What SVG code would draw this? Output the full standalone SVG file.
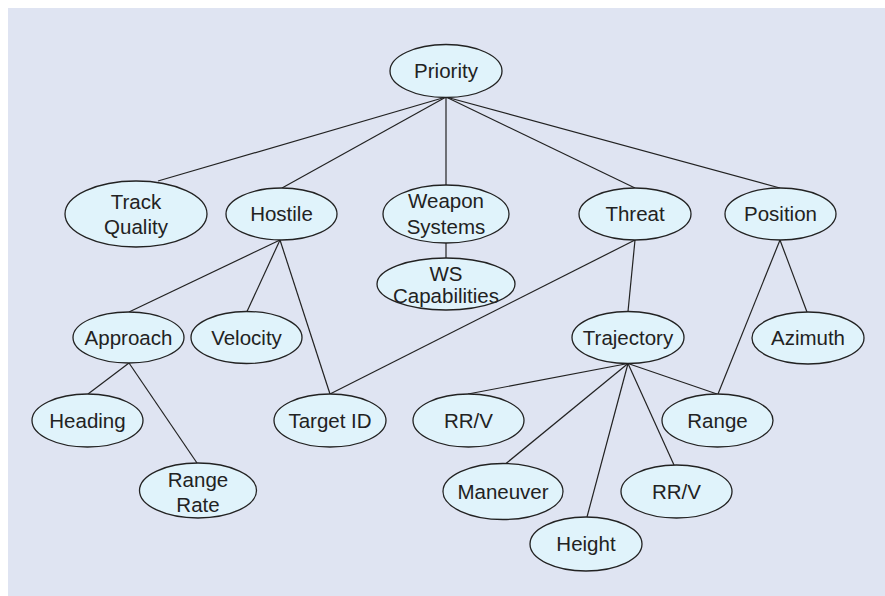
<svg xmlns="http://www.w3.org/2000/svg" width="885" height="596" viewBox="0 0 885 596">
<style>
.bg{fill:#dfe4f2}
.n ellipse{fill:#e0f3fb;stroke:#222;stroke-width:1.3}
.n text{font-family:"Liberation Sans",Arial,sans-serif;font-size:20.5px;fill:#222;text-anchor:middle}
.e line{stroke:#222;stroke-width:1.2}
</style>
<rect class="bg" x="8" y="8" width="877" height="588"/>
<g id="connectors" class="e">
<line x1="446" y1="97" x2="158" y2="181"/>
<line x1="446" y1="97" x2="282" y2="188"/>
<line x1="446" y1="97" x2="446" y2="185"/>
<line x1="446" y1="97" x2="635" y2="188"/>
<line x1="446" y1="97" x2="780" y2="188"/>
<line x1="280" y1="240" x2="129" y2="312"/>
<line x1="280" y1="240" x2="247" y2="311.5"/>
<line x1="280" y1="240" x2="330" y2="394"/>
<line x1="635" y1="240" x2="330" y2="394"/>
<line x1="635" y1="240" x2="628" y2="311.5"/>
<line x1="780" y1="240" x2="718" y2="394"/>
<line x1="780" y1="240" x2="807" y2="312"/>
<line x1="446" y1="243" x2="446" y2="258"/>
<line x1="129" y1="363" x2="88" y2="394"/>
<line x1="129" y1="363" x2="197" y2="463"/>
<line x1="628" y1="363.5" x2="468" y2="394"/>
<line x1="628" y1="363.5" x2="506" y2="463.5"/>
<line x1="628" y1="363.5" x2="587" y2="517"/>
<line x1="628" y1="363.5" x2="674" y2="465"/>
<line x1="628" y1="363.5" x2="717" y2="394"/>
</g>
<g id="priority" class="n"><ellipse cx="446" cy="71" rx="56" ry="26.5"/><text x="446" y="78">Priority</text></g>
<g id="track-quality" class="n"><ellipse cx="136" cy="214" rx="71" ry="33"/><text x="136" y="209">Track</text><text x="136" y="234">Quality</text></g>
<g id="hostile" class="n"><ellipse cx="281.5" cy="214" rx="55.5" ry="26"/><text x="281.5" y="221">Hostile</text></g>
<g id="weapon-systems" class="n"><ellipse cx="446" cy="214" rx="63" ry="29"/><text x="446" y="208">Weapon</text><text x="446" y="234">Systems</text></g>
<g id="ws-capabilities" class="n"><ellipse cx="446" cy="284" rx="69" ry="26"/><text x="446" y="281">WS</text><text x="446" y="303">Capabilities</text></g>
<g id="threat" class="n"><ellipse cx="635" cy="214" rx="56" ry="26"/><text x="635" y="221">Threat</text></g>
<g id="position" class="n"><ellipse cx="780.5" cy="214" rx="55.5" ry="26"/><text x="780.5" y="221">Position</text></g>
<g id="approach" class="n"><ellipse cx="128.5" cy="337.5" rx="55.5" ry="25.5"/><text x="128.5" y="344.5">Approach</text></g>
<g id="velocity" class="n"><ellipse cx="246.5" cy="337.5" rx="55.5" ry="26"/><text x="246.5" y="344.5">Velocity</text></g>
<g id="heading" class="n"><ellipse cx="87.5" cy="420.5" rx="55.5" ry="26.5"/><text x="87.5" y="427.5">Heading</text></g>
<g id="range-rate" class="n"><ellipse cx="198" cy="490.5" rx="58.5" ry="27.5"/><text x="198" y="487">Range</text><text x="198" y="512">Rate</text></g>
<g id="target-id" class="n"><ellipse cx="330" cy="420.5" rx="56" ry="26.5"/><text x="330" y="427.5">Target ID</text></g>
<g id="trajectory" class="n"><ellipse cx="628" cy="337.5" rx="56" ry="26"/><text x="628" y="344.5">Trajectory</text></g>
<g id="azimuth" class="n"><ellipse cx="808" cy="338" rx="56" ry="26"/><text x="808" y="345">Azimuth</text></g>
<g id="rrv-1" class="n"><ellipse cx="468.5" cy="420.5" rx="55.5" ry="26.5"/><text x="468.5" y="427.5">RR/V</text></g>
<g id="range" class="n"><ellipse cx="717.5" cy="420.5" rx="55.5" ry="26.5"/><text x="717.5" y="427.5">Range</text></g>
<g id="maneuver" class="n"><ellipse cx="503" cy="491.5" rx="60" ry="28"/><text x="503" y="498.5">Maneuver</text></g>
<g id="rrv-2" class="n"><ellipse cx="676.5" cy="491.5" rx="55.5" ry="26.5"/><text x="676.5" y="498.5">RR/V</text></g>
<g id="height" class="n"><ellipse cx="586" cy="544" rx="56" ry="27"/><text x="586" y="551">Height</text></g>
</svg>
